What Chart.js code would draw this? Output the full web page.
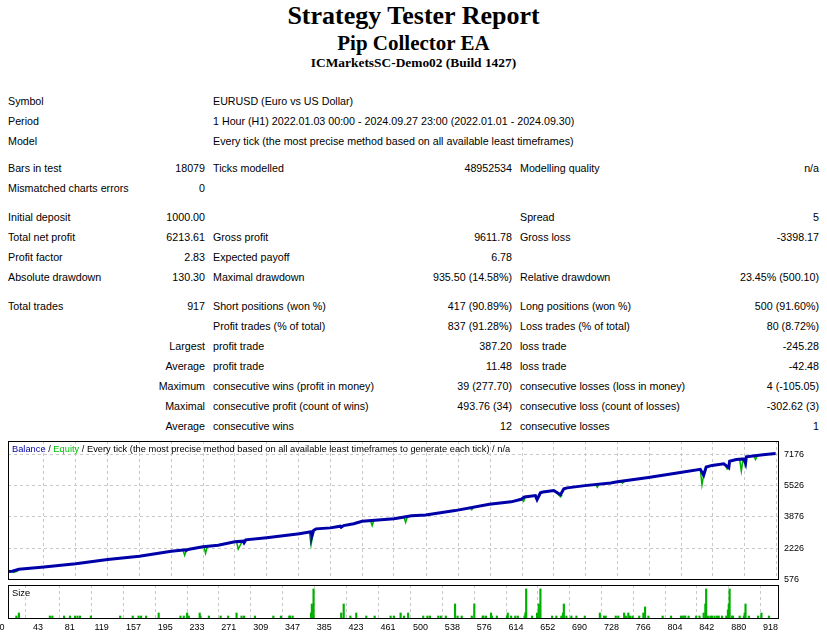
<!DOCTYPE html>
<html>
<head>
<meta charset="utf-8">
<title>Strategy Tester Report</title>
<script src="https://cdn.jsdelivr.net/npm/chart.js@4.4.1/dist/chart.umd.min.js"></script>
<style>
body{margin:0;background:#fff;width:827px;height:640px;position:relative;overflow:hidden;font-family:"Liberation Sans",Arial,sans-serif;color:#000;}
.hd{position:absolute;left:0;width:827px;text-align:center;font-family:"Liberation Serif","Times New Roman",serif;font-weight:bold;line-height:1;white-space:nowrap;}
.c{position:absolute;font-size:10.7px;line-height:14px;white-space:nowrap;}
.lbl{position:absolute;font-size:9.3px;line-height:12px;white-space:nowrap;}
#main{position:absolute;left:0;top:430px;}
#size{position:absolute;left:0;top:584px;}
</style>
</head>
<body>
<div class="hd" style="top:3px;font-size:26px">Strategy Tester Report</div>
<div class="hd" style="top:33px;font-size:21px">Pip Collector EA</div>
<div class="hd" style="top:56px;font-size:13.4px">ICMarketsSC-Demo02 (Build 1427)</div>
<div id="report"></div>
<canvas id="main" width="827" height="160"></canvas>
<canvas id="size" width="827" height="56"></canvas>
<div class="lbl" style="left:12px;top:443px"><span style="color:#0000a8">Balance</span> / <span style="color:#00c000">Equity</span> / Every tick (the most precise method based on all available least timeframes to generate each tick) / n/a</div>
<div class="lbl" style="left:12px;top:587px">Size</div>
<script>
// report table: row centre y, then six cells
var reportRows = [
  [101, 'Symbol', '', 'EURUSD (Euro vs US Dollar)', '', '', ''],
  [121, 'Period', '', '1 Hour (H1) 2022.01.03 00:00 - 2024.09.27 23:00 (2022.01.01 - 2024.09.30)', '', '', ''],
  [141, 'Model', '', 'Every tick (the most precise method based on all available least timeframes)', '', '', ''],
  [168, 'Bars in test', '18079', 'Ticks modelled', '48952534', 'Modelling quality', 'n/a'],
  [188, 'Mismatched charts errors', '0', '', '', '', ''],
  [217, 'Initial deposit', '1000.00', '', '', 'Spread', '5'],
  [237, 'Total net profit', '6213.61', 'Gross profit', '9611.78', 'Gross loss', '-3398.17'],
  [257, 'Profit factor', '2.83', 'Expected payoff', '6.78', '', ''],
  [277, 'Absolute drawdown', '130.30', 'Maximal drawdown', '935.50 (14.58%)', 'Relative drawdown', '23.45% (500.10)'],
  [306, 'Total trades', '917', 'Short positions (won %)', '417 (90.89%)', 'Long positions (won %)', '500 (91.60%)'],
  [326, '', '', 'Profit trades (% of total)', '837 (91.28%)', 'Loss trades (% of total)', '80 (8.72%)'],
  [346, '', 'Largest', 'profit trade', '387.20', 'loss trade', '-245.28'],
  [366, '', 'Average', 'profit trade', '11.48', 'loss trade', '-42.48'],
  [386, '', 'Maximum', 'consecutive wins (profit in money)', '39 (277.70)', 'consecutive losses (loss in money)', '4 (-105.05)'],
  [406, '', 'Maximal', 'consecutive profit (count of wins)', '493.76 (34)', 'consecutive loss (count of losses)', '-302.62 (3)'],
  [426, '', 'Average', 'consecutive wins', '12', 'consecutive losses', '1']
];

var xTickLabels = [0,43,81,119,157,195,233,271,309,347,385,423,461,500,538,576,614,652,690,728,766,804,842,880,918];
var yTickLabels = [576,2226,3876,5526,7176];

var balanceTrades = [0,5,13,43,81,119,157,195,212,213,215,233,251,271,281,282,284,309,348,362,363,365,368,385,397,398,401,413,423,461,470,482,499,534,575,601,613,617,630,632,636,639,652,660,664,668,689,720,728,765,803,827,831,834,841,855,861,862,870,879,881,882,902,917];
var balanceValues = [1000,1020,1120,1244,1414,1640,1810,2067,2150,2110,2160,2310,2390,2565,2600,2520,2668,2786,2992,3095,2870,3160,3249,3300,3387,3330,3420,3521,3645,3778,3850,3933,3984,4210,4549,4672,4806,4929,5000,4790,5150,5187,5269,5048,5356,5408,5526,5665,5731,5958,6215,6384,6076,6502,6590,6677,6472,6811,6898,6930,6690,7040,7155,7213.61];

// equity dips (null = break in the line)
var equityTrades = [5,7,12,null,209,211,213,null,234,236,238,null,273,275,280,null,360,362,365,null,433,435,437,null,473,475,477,null,552,554,556,null,614,616,618,null,653,655,660,662,null,702,704,706,null,732,734,737,null,827,829,831,null,856,859,861,null,874,876,878,null,891,893,895];
var equityValues = [1015,960,1040,null,2135,1850,2110,null,2315,1960,2320,null,2580,2180,2600,null,3080,2400,3160,null,3680,3420,3690,null,3870,3590,3890,null,4360,4250,4370,null,4810,4700,4930,null,5270,5150,4930,5050,null,5585,5440,5600,null,5755,5650,5770,null,6384,5570,6076,null,6680,6400,6472,null,6910,6290,6920,null,7080,6900,7090];

var sizeTrades = [10,13,50,53,67,74,80,83,86,99,134,149,156,159,165,180,206,210,214,216,229,230,240,
  254,263,273,279,282,295,317,326,336,337,340,362,363,365,398,401,409,416,428,438,457,461,469,473,478,
  496,501,504,514,517,523,534,537,542,554,557,567,568,571,577,578,584,596,597,601,606,609,617,618,619,626,632,634,636,650,655,661,663,664,667,673,679,689,707,712,714,
  726,729,736,738,741,743,746,754,759,761,765,782,792,804,806,808,809,813,822,826,831,833,834,836,839,841,844,847,849,853,858,860,861,862,865,866,874,879,880,881,885,896,900,909];
var sizeLots = [0.01,0.02,0.01,0.01,0.01,0.01,0.01,0.01,0.01,0.01,0.01,0.01,0.01,0.01,0.01,0.02,0.01,0.01,0.02,0.01,0.02,0.01,0.01,
  0.01,0.01,0.02,0.01,0.01,0.01,0.01,0.01,0.01,0.01,0.01,0.02,0.05,0.10,0.02,0.05,0.01,0.02,0.01,0.01,0.01,0.01,0.02,0.01,0.02,
  0.01,0.01,0.01,0.01,0.01,0.01,0.05,0.01,0.01,0.01,0.05,0.01,0.01,0.01,0.02,0.01,0.01,0.01,0.02,0.01,0.01,0.01,0.01,0.02,0.10,0.01,0.02,0.05,0.10,0.01,0.01,0.01,0.02,0.05,0.01,0.01,0.01,0.01,0.02,0.01,0.01,
  0.01,0.01,0.02,0.01,0.02,0.01,0.01,0.01,0.02,0.04,0.01,0.01,0.01,0.01,0.01,0.01,0.01,0.01,0.01,0.01,0.02,0.05,0.10,0.01,0.01,0.01,0.01,0.01,0.01,0.01,0.01,0.03,0.05,0.10,0.01,0.01,0.01,0.01,0.02,0.05,0.01,0.01,0.02,0.01];

// build report text
var colLeft = [8, null, 213, null, 520, null];
var colRight = [null, 205, null, 512, null, 819];
var rep = document.getElementById('report');
reportRows.forEach(function(row){
  for (var k = 0; k < 6; k++) {
    var txt = row[k + 1];
    if (!txt) continue;
    var d = document.createElement('div');
    d.className = 'c';
    d.style.top = (row[0] - 7.5) + 'px';
    if (colLeft[k] !== null) d.style.left = colLeft[k] + 'px';
    else d.style.right = (827 - colRight[k]) + 'px';
    d.textContent = txt;
    rep.appendChild(d);
  }
});

Chart.defaults.font.family = '"Liberation Sans", Arial, sans-serif';
Chart.defaults.color = '#000';

function pts(xs, ys){
  var out = [];
  for (var i = 0; i < xs.length; i++) out.push({x: xs[i], y: ys[i]});
  return out;
}

function plain(v){ return String(v); }

var framePlugin = {
  id: 'frame',
  afterDraw: function(chart){
    var a = chart.chartArea, c = chart.ctx;
    c.save();
    c.strokeStyle = '#000';
    c.lineWidth = 1;
    c.strokeRect(Math.round(a.left) + 0.5, Math.round(a.top) + 0.5, Math.round(a.right - a.left) - 1, Math.round(a.bottom - a.top) - 1);
    c.restore();
  }
};

var xMax = 921;

new Chart(document.getElementById('main'), {
  type: 'line',
  data: {
    datasets: [
      {
        label: 'Balance',
        data: pts(balanceTrades, balanceValues),
        borderColor: '#0000a8',
        borderWidth: 3,
        pointRadius: 0,
        tension: 0
      },
      {
        label: 'Equity',
        data: pts(equityTrades, equityValues),
        borderColor: '#00b000',
        borderWidth: 1.5,
        pointRadius: 0,
        tension: 0,
        spanGaps: false
      }
    ]
  },
  options: {
    responsive: false,
    animation: false,
    layout: {padding: {left: 8, top: 11, right: 0, bottom: 7}},
    plugins: {legend: {display: false}, tooltip: {enabled: false}},
    scales: {
      x: {
        type: 'linear', min: 0, max: xMax,
        afterBuildTicks: function(s){ s.ticks = xTickLabels.map(function(v){ return {value: v}; }); },
        afterFit: function(s){ s.height = 0; },
        ticks: {display: false},
        grid: {color: '#c8c8c8', drawTicks: false},
        border: {display: false, dash: [3, 3]}
      },
      y: {
        type: 'linear', position: 'right', min: 576, max: 7876,
        afterBuildTicks: function(s){ s.ticks = yTickLabels.map(function(v){ return {value: v}; }); },
        afterFit: function(s){ s.width = 48; },
        ticks: {padding: 5, font: {size: 9}, color: '#000', callback: plain},
        grid: {color: '#c8c8c8', drawTicks: false},
        border: {display: false, dash: [3, 3]}
      }
    }
  },
  plugins: [framePlugin]
});

new Chart(document.getElementById('size'), {
  type: 'bar',
  data: {
    datasets: [{
      label: 'Size',
      data: pts(sizeTrades, sizeLots),
      backgroundColor: '#00b000',
      barThickness: 1.5,
      grouped: false
    }]
  },
  options: {
    responsive: false,
    animation: false,
    layout: {padding: {left: 8, top: 1, right: 0, bottom: 0}},
    plugins: {legend: {display: false}, tooltip: {enabled: false}},
    scales: {
      x: {
        type: 'linear', min: 0, max: xMax, offset: false,
        afterBuildTicks: function(s){ s.ticks = xTickLabels.map(function(v){ return {value: v}; }); },
        afterFit: function(s){ s.height = 21; },
        ticks: {padding: 3, labelOffset: -6, maxRotation: 0, autoSkip: false, font: {size: 9}, color: '#000', callback: plain},
        grid: {color: '#c8c8c8', drawTicks: false},
        border: {display: false, dash: [3, 3]}
      },
      y: {
        type: 'linear', position: 'right', min: 0, max: 0.113,
        afterFit: function(s){ s.width = 48; },
        ticks: {display: false},
        grid: {display: false},
        border: {display: false}
      }
    }
  },
  plugins: [framePlugin]
});
</script>
</body>
</html>
